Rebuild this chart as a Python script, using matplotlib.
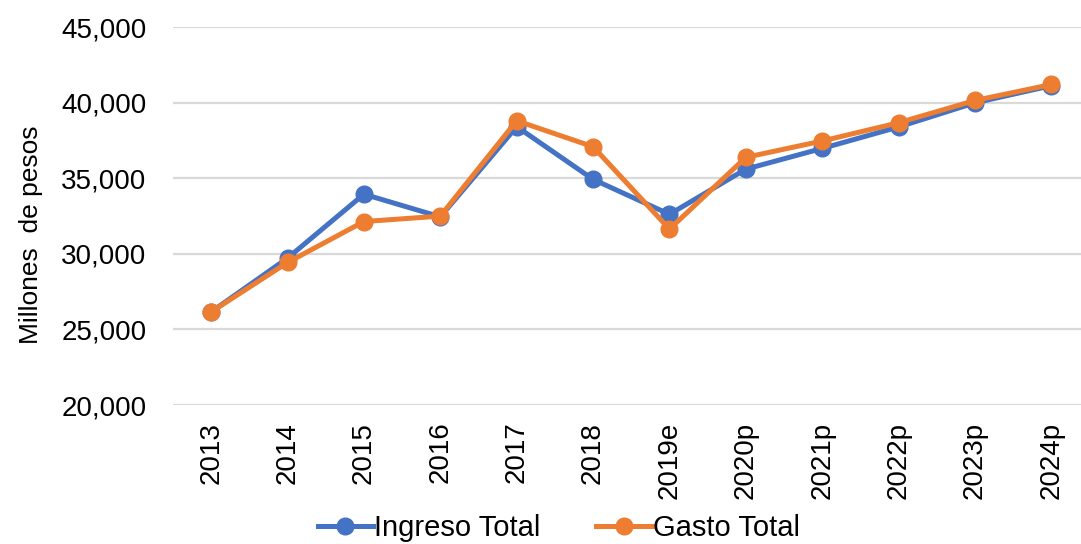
import matplotlib.pyplot as plt
from matplotlib.ticker import FuncFormatter

plt.rcParams['font.family'] = ['Liberation Sans', 'DejaVu Sans']

# Data
years = ['2013', '2014', '2015', '2016', '2017', '2018', '2019e',
         '2020p', '2021p', '2022p', '2023p', '2024p']
ingreso = [26160, 29720, 33950, 32450, 38420, 34930, 32620,
           35610, 36980, 38400, 40000, 41130]
gasto = [26160, 29430, 32140, 32500, 38810, 37090, 31640,
         36390, 37470, 38680, 40150, 41210]

blue = '#4472C4'
orange = '#ED7D31'

fig = plt.figure(figsize=(10.81, 5.44), dpi=100)
ax = fig.add_axes([0.160, 0.2555, 0.848, 0.6945])

x = range(len(years))
ax.plot(x, ingreso, color=blue, lw=3.6, marker='o', ms=12, label='Ingreso Total', zorder=3)
ax.plot(x, gasto, color=orange, lw=3.6, marker='o', ms=12, label='Gasto Total', zorder=4)

ax.set_xlim(-0.5, 11.5)
ax.set_ylim(20000, 45000)
ax.set_yticks(range(20000, 45001, 5000))
ax.yaxis.set_major_formatter(FuncFormatter(lambda v, p: f'{v:,.0f}'))
ax.set_xticks(list(x))
ax.set_xticklabels(years, rotation=90)

ax.grid(axis='y', color='#D9D9D9', lw=1.6)
ax.set_axisbelow(True)
for s in ax.spines.values():
    s.set_visible(False)
ax.tick_params(axis='both', length=0, labelsize=20, colors='black')
ax.tick_params(axis='x', pad=12)
ax.tick_params(axis='y', pad=19)

ax.set_ylabel('Millones  de pesos', fontsize=19)
ax.yaxis.set_label_coords(-0.142, 0.45)

fig.legend(loc='lower center', bbox_to_anchor=(0.517, -0.045), ncol=2, frameon=False,
           fontsize=21, handlelength=1.9, handletextpad=0.05, columnspacing=1.9)

fig.savefig('out.png', dpi=100)
